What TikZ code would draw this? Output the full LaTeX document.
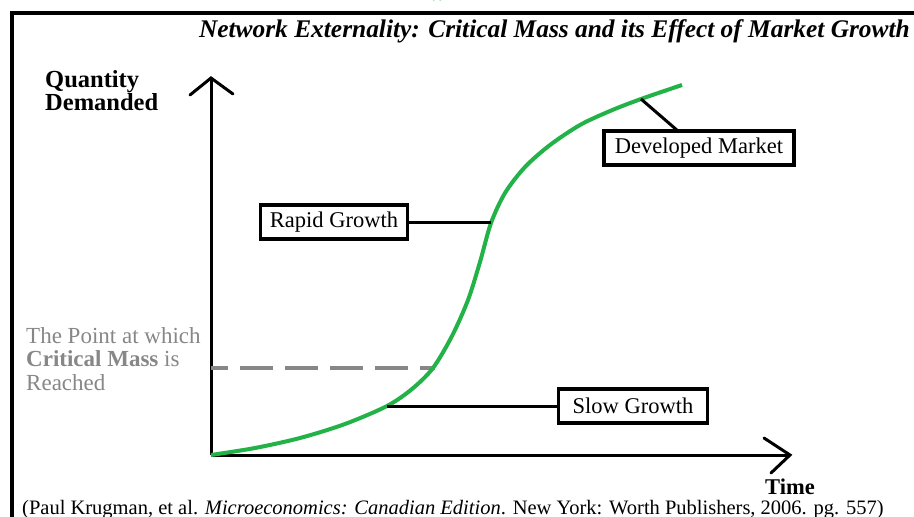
\documentclass[tikz,border=0pt]{standalone}
\usepackage{fontspec}
\setmainfont{Liberation Serif}
\begin{document}
\begin{tikzpicture}[x=1pt,y=-1pt,
  lbl/.style={draw=black,line width=3.5pt,fill=white,inner sep=3pt,minimum height=34pt,font=\fontsize{22.5}{24}\selectfont},
  conn/.style={line width=3pt},
  axis/.style={line width=3pt},
  axtip/.style={line width=3pt,line cap=round,line join=miter},
  gtext/.style={text=critgray,font=\fontsize{23}{23.5}\selectfont,align=left,anchor=base west,inner sep=0pt},
]
\definecolor{curvegreen}{RGB}{34,178,72}
\definecolor{critgray}{RGB}{135,135,135}
\useasboundingbox (0,0) rectangle (914,517);
\fill[white] (0,0) rectangle (914,517);
% cut-off green glyph at top
\draw[curvegreen,line width=2.5pt] (433,0) arc[start angle=180,end angle=360,x radius=4pt,y radius=-3pt];
% frame
\draw[line width=4pt] (12,517) -- (12,13) -- (914,13);
% title
\node[anchor=base east,inner sep=0pt,font=\fontsize{25.4}{27}\selectfont\bfseries\itshape] (title) at (910,37) {Network Externality: Critical Mass and its Effect of Market Growth};
% axis labels
\node[anchor=base west,inner sep=0pt,align=left,font=\fontsize{24.5}{23}\selectfont\bfseries] (qd) at (45,110) {Quantity\\Demanded};
\node[anchor=base,inner sep=0pt,font=\fontsize{22.5}{24}\selectfont\bfseries] (time) at (790,494) {Time};
% axes
\coordinate (O) at (211,455);
\coordinate (ytip) at (211,78);
\coordinate (xtip) at (790,455);
\draw[axis] (O) -- (ytip);
\draw[axis] (O) -- (xtip);
\draw[axtip] (190,95) -- (ytip) -- (233,94);
\draw[axtip] (764,438) -- (xtip) -- (771,473);
% critical mass
\coordinate (cm) at (435,368);
\coordinate (cmy) at (211,368);
\draw[critgray,line width=4pt,dash pattern=on 33pt off 12pt,dash phase=16pt] (cmy) -- (cm);
\node[gtext] (cmtext) at (26,390) {The Point at which\\\textbf{Critical Mass} is\\Reached};
% curve
\draw[curvegreen,line width=4pt] plot[smooth,tension=0.5] coordinates {(211,455) (255,448) (300,438) (345,424) (387,406) (412,389) (433,368) (452,336) (468,300) (480,262) (491,223) (505,193) (525,167) (550,145) (580,125) (610,111) (641,99) (682,85)};
% labels
\coordinate (sg) at (387,406);
\coordinate (rg) at (491,222);
\coordinate (dm) at (641,99);
\node[lbl,minimum width=149pt] (slow) at (633,406) {Slow Growth};
\node[lbl,minimum width=147pt] (rapid) at (334,222) {Rapid Growth};
\node[lbl,minimum width=190pt] (dev) at (699,148) {Developed Market};
\draw[conn] (sg) -- (slow.west);
\draw[conn] (rapid.east) -- (rg);
\draw[conn] (dm) -- (678,131);
% citation
\node[anchor=base west,inner sep=0pt,font=\fontsize{20.5}{22}\selectfont] (cite) at (22,514) {(Paul Krugman, et al. \textit{Microeconomics: Canadian Edition}. New York: Worth Publishers, 2006. pg. 557)};
\end{tikzpicture}
\end{document}
